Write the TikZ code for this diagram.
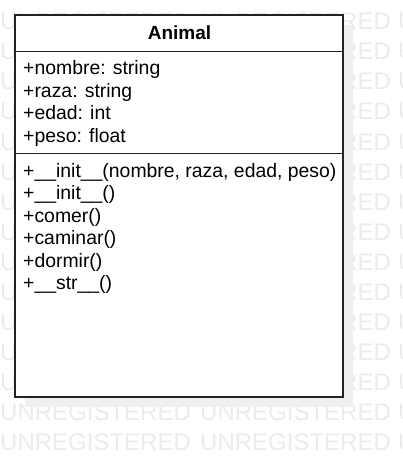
\documentclass[tikz,border=0pt]{standalone}
\usepackage{fontspec}
\setmainfont{Liberation Sans}
\usepackage{xcolor}
\usetikzlibrary{calc}
\definecolor{wmgray}{HTML}{EBEBEB}
\definecolor{shadowgray}{HTML}{EFEFEF}
\definecolor{linegray}{HTML}{222222}

\begin{document}
\begin{tikzpicture}[x=1pt, y=-1pt,
    member/.style={anchor=base west, inner sep=0pt, font=\fontsize{19.4}{22}\selectfont},
    watermark/.style={anchor=base west, inner sep=0pt, text=wmgray, font=\fontsize{24}{26}\selectfont}]
        \useasboundingbox (0,0) rectangle (402,457);

        % Watermark in the background
        \foreach \k in {0,...,14} {
            \node[watermark] (wmA-\k) at (0,30+30*\k) {UNREGISTERED};
            \node[watermark] (wmB-\k) at (200,30+30*\k) {UNREGISTERED};
            \node[watermark] (wmC-\k) at (398,30+30*\k) {U};
        }

        % Define the corners of the class box
        \coordinate (NW) at (15,15);
        \coordinate (SE) at (343,397);
        \coordinate (titleW) at (15,52);
        \coordinate (titleE) at (343,52);
        \coordinate (sepW) at (15,154);
        \coordinate (sepE) at (343,154);

        % Shadow and box
        \fill[shadowgray] ($(NW)+(10,10)$) rectangle ($(SE)+(10,10)$);
        \draw[linegray, line width=1.6pt, fill=white] (NW) rectangle (SE);
        \draw[linegray, line width=1pt] (titleW) -- (titleE);
        \draw[linegray, line width=1pt] (sepW) -- (sepE);

        % Class name
        \node[anchor=base, inner sep=0pt, font=\fontsize{19}{22}\selectfont\bfseries] (title) at (179.5,40) {Animal};

        % Attributes
        \node[member] (attr1) at (23,75) {+nombre: string};
        \node[member] (attr2) at (23,97.5) {+raza: string};
        \node[member] (attr3) at (23,120) {+edad: int};
        \node[member] (attr4) at (23,142.5) {+peso: float};

        % Methods
        \node[member] (meth1) at (23,177) {+\_\_init\_\_(nombre, raza, edad, peso)};
        \node[member] (meth2) at (23,199.5) {+\_\_init\_\_()};
        \node[member] (meth3) at (23,222) {+comer()};
        \node[member] (meth4) at (23,244.5) {+caminar()};
        \node[member] (meth5) at (23,267) {+dormir()};
        \node[member] (meth6) at (23,289.5) {+\_\_str\_\_()};
    \end{tikzpicture}
\end{document}
